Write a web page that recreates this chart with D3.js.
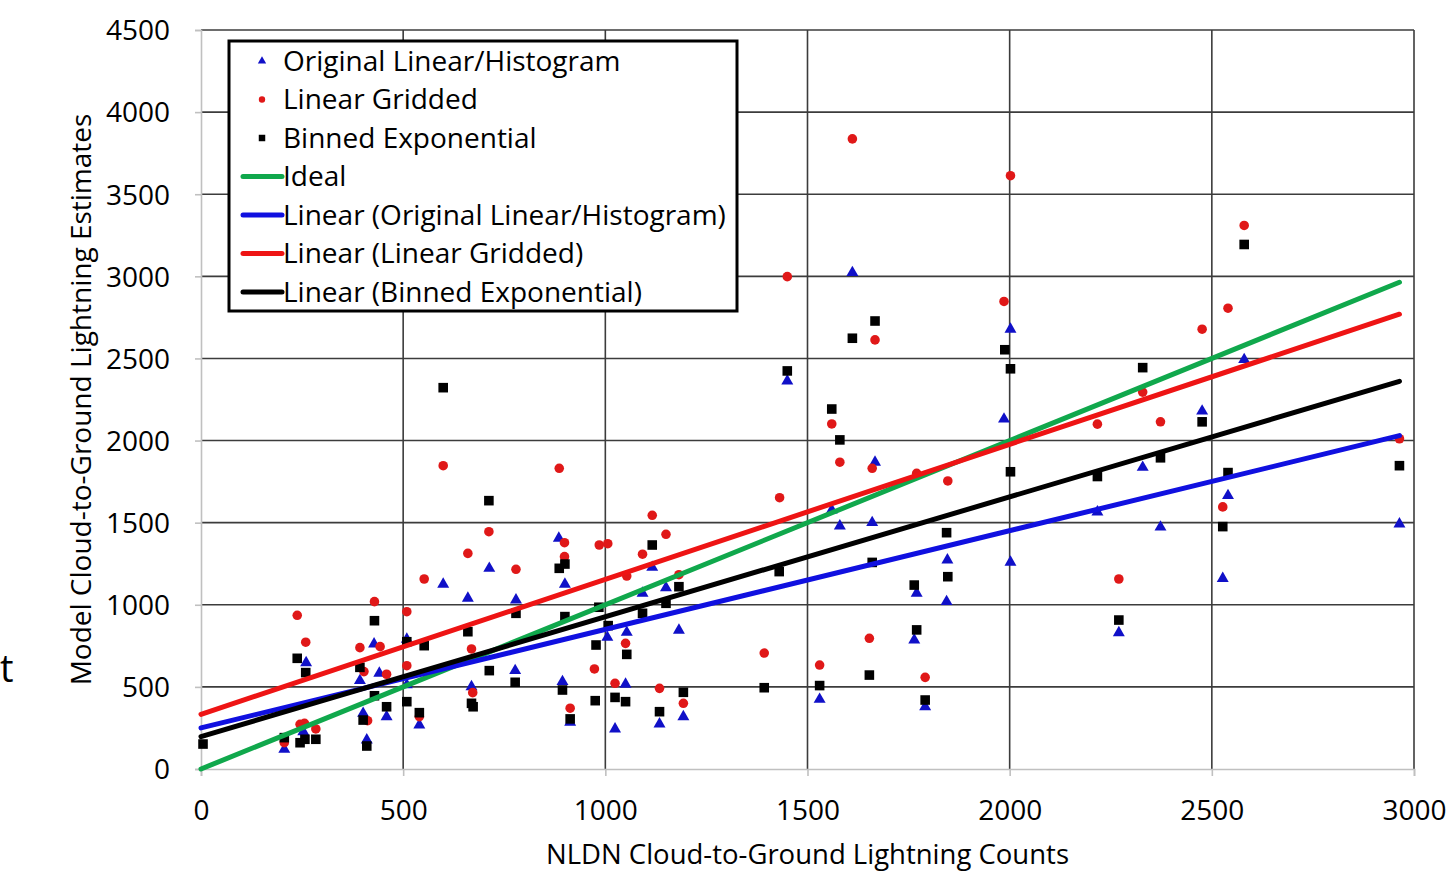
<!DOCTYPE html>
<html>
<head>
<meta charset="utf-8">
<script src="https://cdn.jsdelivr.net/npm/d3@7"></script>
<style>
  body { margin: 0; background: #fff; }
  #chart { width: 1449px; height: 877px; overflow: hidden; }
  text { font-family: "Open Sans", sans-serif; fill: #000; }
</style>
</head>
<body>
<div id="chart"></div>
<script>
// tick labels
var xTicks = [0, 500, 1000, 1500, 2000, 2500, 3000];
var yTicks = [0, 500, 1000, 1500, 2000, 2500, 3000, 3500, 4000, 4500];

// scatter series [NLDN count, model estimate]
var origPoints = [
  [206,120],[253,227],[260,647],[393,538],[401,339],[410,177],[428,761],[441,583],[459,318],
  [509,790],[509,512],[540,268],[599,1125],[660,1040],[669,501],[713,1222],[777,599],[779,1029],
  [885,1405],[894,532],[900,1125],[913,284],[1005,802],[1024,244],[1050,516],[1053,832],[1092,1070],
  [1116,1228],[1134,274],[1150,1104],[1182,845],[1193,318],[1450,2363],[1530,424],[1560,1577],
  [1580,1480],[1611,3023],[1660,1500],[1667,1868],[1764,786],[1770,1070],[1791,379],[1844,1019],
  [1846,1273],[1986,2131],[2002,2678],[2002,1259],[2217,1565],[2270,830],[2329,1837],[2373,1473],
  [2476,2179],[2527,1160],[2540,1665],[2580,2493],[2964,1492]
];
var griddedPoints = [
  [206,160],[238,936],[245,272],[256,278],[259,772],[284,244],[393,739],[403,593],[412,294],
  [429,1019],[443,745],[459,577],[509,958],[509,629],[540,319],[552,1157],[599,1847],[660,1313],
  [669,731],[672,465],[712,1445],[779,1216],[886,1831],[899,1378],[899,1293],[913,370],[973,609],
  [985,1364],[1006,1372],[1024,522],[1050,765],[1053,1175],[1092,1308],[1116,1545],[1134,491],
  [1150,1429],[1182,1183],[1193,400],[1393,706],[1431,1652],[1450,2998],[1530,633],[1560,2101],
  [1580,1868],[1611,3837],[1653,796],[1660,1831],[1667,2613],[1770,1800],[1791,558],[1847,1754],
  [1986,2847],[2002,3613],[2217,2100],[2270,1157],[2329,2295],[2373,2114],[2476,2678],[2527,1596],
  [2540,2806],[2580,3310],[2964,2011]
];
var binnedPoints = [
  [5,152],[206,191],[238,674],[245,160],[257,181],[259,587],[284,181],[393,619],[401,298],
  [410,140],[429,903],[429,446],[459,379],[509,775],[509,410],[540,343],[552,751],[599,2322],
  [660,836],[669,400],[673,379],[712,1634],[713,599],[777,528],[779,948],[886,1222],[894,481],
  [900,1248],[900,928],[913,305],[975,416],[977,755],[984,985],[1007,873],[1024,436],[1050,410],
  [1053,698],[1092,948],[1116,1364],[1134,349],[1150,1009],[1182,1110],[1193,467],[1393,495],
  [1430,1202],[1450,2424],[1530,508],[1560,2192],[1580,2004],[1611,2623],[1653,572],[1660,1258],
  [1667,2728],[1764,1120],[1770,847],[1791,420],[1844,1439],[1847,1171],[1988,2553],[2002,2437],
  [2002,1810],[2217,1781],[2270,907],[2329,2444],[2373,1895],[2476,2114],[2527,1476],[2540,1805],
  [2580,3194],[2964,1847]
];

// lines: ideal + linear fits (intercept, slope)
var lineNames = ['Ideal', 'Linear (Original Linear/Histogram)', 'Linear (Linear Gridded)', 'Linear (Binned Exponential)'];
var lineIntercepts = [0, 250, 333, 197];
var lineSlopes = [1, 0.6005, 0.822, 0.730];
var lineExtent = [0, 2964];

var ScatterChart = function(_id) {

  var that = this;

  that.id = _id;
  that.widthCont = 1449;
  that.heightCont = 877;
  that.margin = {top: 30, right: 35, bottom: 108, left: 201};

  that.init = function() {

    that.width = that.widthCont - that.margin.left - that.margin.right;
    that.height = that.heightCont - that.margin.top - that.margin.bottom;

    that.x = d3.scaleLinear().domain([0, 3000]).range([0, that.width]);
    that.y = d3.scaleLinear().domain([0, 4500]).range([that.height, 0]);

    var svg = d3.select('#' + that.id).append('svg')
      .attr('width', that.widthCont)
      .attr('height', that.heightCont);

    // stray text at the left edge
    svg.append('text')
      .attr('x', 0)
      .attr('y', 682)
      .style('font-size', '38px')
      .text('t');

    that.svg = svg.append('g')
      .attr('transform', 'translate(' + that.margin.left + ',' + that.margin.top + ')');

    that.drawAxes();
    that.drawPoints();
    that.drawLines();
    that.drawLegend();

    return that;
  };

  that.drawAxes = function() {

    // grid
    that.svg.selectAll('.hgrid')
      .data(yTicks.filter(function(d) { return d > 0; }))
    .enter().append('line')
      .attr('class', 'hgrid')
      .attr('x1', 0)
      .attr('x2', that.width)
      .attr('y1', function(d) { return that.y(d); })
      .attr('y2', function(d) { return that.y(d); })
      .attr('stroke', '#3c3c3c')
      .attr('stroke-width', 1.6);

    that.svg.selectAll('.vgrid')
      .data(xTicks.filter(function(d) { return d > 0; }))
    .enter().append('line')
      .attr('class', 'vgrid')
      .attr('x1', function(d) { return that.x(d); })
      .attr('x2', function(d) { return that.x(d); })
      .attr('y1', 0)
      .attr('y2', that.height)
      .attr('stroke', '#3c3c3c')
      .attr('stroke-width', 1.6);

    var xAxis = that.svg.append('g')
      .attr('class', 'x axis')
      .attr('transform', 'translate(0,' + that.height + ')')
      .call(d3.axisBottom(that.x).tickValues(xTicks).tickSize(7).tickPadding(33).tickFormat(d3.format('d')));

    var yAxis = that.svg.append('g')
      .attr('class', 'y axis')
      .call(d3.axisLeft(that.y).tickValues(yTicks).tickSize(6).tickPadding(25).tickFormat(d3.format('d')));

    [xAxis, yAxis].forEach(function(ax) {
      ax.select('.domain').attr('stroke', '#c0c0c0').attr('stroke-width', 1.6);
      ax.selectAll('.tick line').attr('stroke', '#c0c0c0').attr('stroke-width', 1.6);
      ax.selectAll('.tick text')
        .style('font-family', '"Open Sans", sans-serif')
        .style('font-size', '28px')
        .attr('fill', '#000');
    });

    xAxis.selectAll('.tick text').attr('dy', '0.4em');
    yAxis.selectAll('.tick text').attr('dy', '0.35em');

    that.svg.append('text')
      .attr('x', that.x(1500))
      .attr('y', 834)
      .attr('text-anchor', 'middle')
      .style('font-size', '27.5px')
      .text('NLDN Cloud-to-Ground Lightning Counts');

    that.svg.append('text')
      .attr('transform', 'translate(' + (-110) + ',' + that.y(2250) + ') rotate(-90)')
      .attr('text-anchor', 'middle')
      .style('font-size', '28px')
      .text('Model Cloud-to-Ground Lightning Estimates');
  };

  that.drawPoints = function() {

    var sets = [
      {data: origPoints, type: d3.symbolTriangle, size: 62, color: '#1010c8'},
      {data: griddedPoints, type: d3.symbolCircle, size: 72, color: '#e01818'},
      {data: binnedPoints, type: d3.symbolSquare, size: 92, color: '#000'}
    ];

    sets.forEach(function(s, i) {
      that.svg.selectAll('.pt' + i)
        .data(s.data)
      .enter().append('path')
        .attr('class', 'pt' + i)
        .attr('d', d3.symbol().type(s.type).size(s.size))
        .attr('transform', function(d) { return 'translate(' + that.x(d[0]) + ',' + that.y(d[1]) + ')'; })
        .attr('fill', s.color);
    });
  };

  that.lineColors = ['#10a84c', '#1010e0', '#ee1414', '#000'];

  that.drawLines = function() {

    that.svg.selectAll('.fit')
      .data(lineNames)
    .enter().append('line')
      .attr('class', 'fit')
      .attr('x1', that.x(lineExtent[0]))
      .attr('x2', that.x(lineExtent[1]))
      .attr('y1', function(d, i) { return that.y(lineIntercepts[i] + lineSlopes[i] * lineExtent[0]); })
      .attr('y2', function(d, i) { return that.y(lineIntercepts[i] + lineSlopes[i] * lineExtent[1]); })
      .attr('stroke', function(d, i) { return that.lineColors[i]; })
      .attr('stroke-width', 5)
      .attr('stroke-linecap', 'round');
  };

  that.drawLegend = function() {

    var lg = that.svg.append('g')
      .attr('transform', 'translate(' + (229 - that.margin.left) + ',' + (41 - that.margin.top) + ')');

    lg.append('rect')
      .attr('x', 0)
      .attr('y', 0)
      .attr('width', 508)
      .attr('height', 270)
      .attr('fill', '#fff')
      .attr('stroke', '#000')
      .attr('stroke-width', 3);

    var items = [
      {name: 'Original Linear/Histogram', symbol: d3.symbolTriangle, size: 30, color: '#1010c8'},
      {name: 'Linear Gridded', symbol: d3.symbolCircle, size: 32, color: '#e01818'},
      {name: 'Binned Exponential', symbol: d3.symbolSquare, size: 42, color: '#000'}
    ];
    lineNames.forEach(function(n, i) {
      items.push({name: n, line: true, color: that.lineColors[i]});
    });

    var row = lg.selectAll('.lg-row')
      .data(items)
    .enter().append('g')
      .attr('class', 'lg-row')
      .attr('transform', function(d, i) { return 'translate(0,' + (20 + i * 38.5) + ')'; });

    row.filter(function(d) { return !d.line; }).append('path')
      .attr('d', function(d) { return d3.symbol().type(d.symbol).size(d.size)(); })
      .attr('transform', 'translate(33,0)')
      .attr('fill', function(d) { return d.color; });

    row.filter(function(d) { return d.line; }).append('line')
      .attr('x1', 14)
      .attr('x2', 53)
      .attr('y1', 0)
      .attr('y2', 0)
      .attr('stroke', function(d) { return d.color; })
      .attr('stroke-width', 5)
      .attr('stroke-linecap', 'round');

    row.append('text')
      .attr('x', 54)
      .attr('y', 0)
      .attr('dy', '0.35em')
      .style('font-size', '28px')
      .text(function(d) { return d.name; });
  };

  return that;
};

new ScatterChart('chart').init();
</script>
</body>
</html>
